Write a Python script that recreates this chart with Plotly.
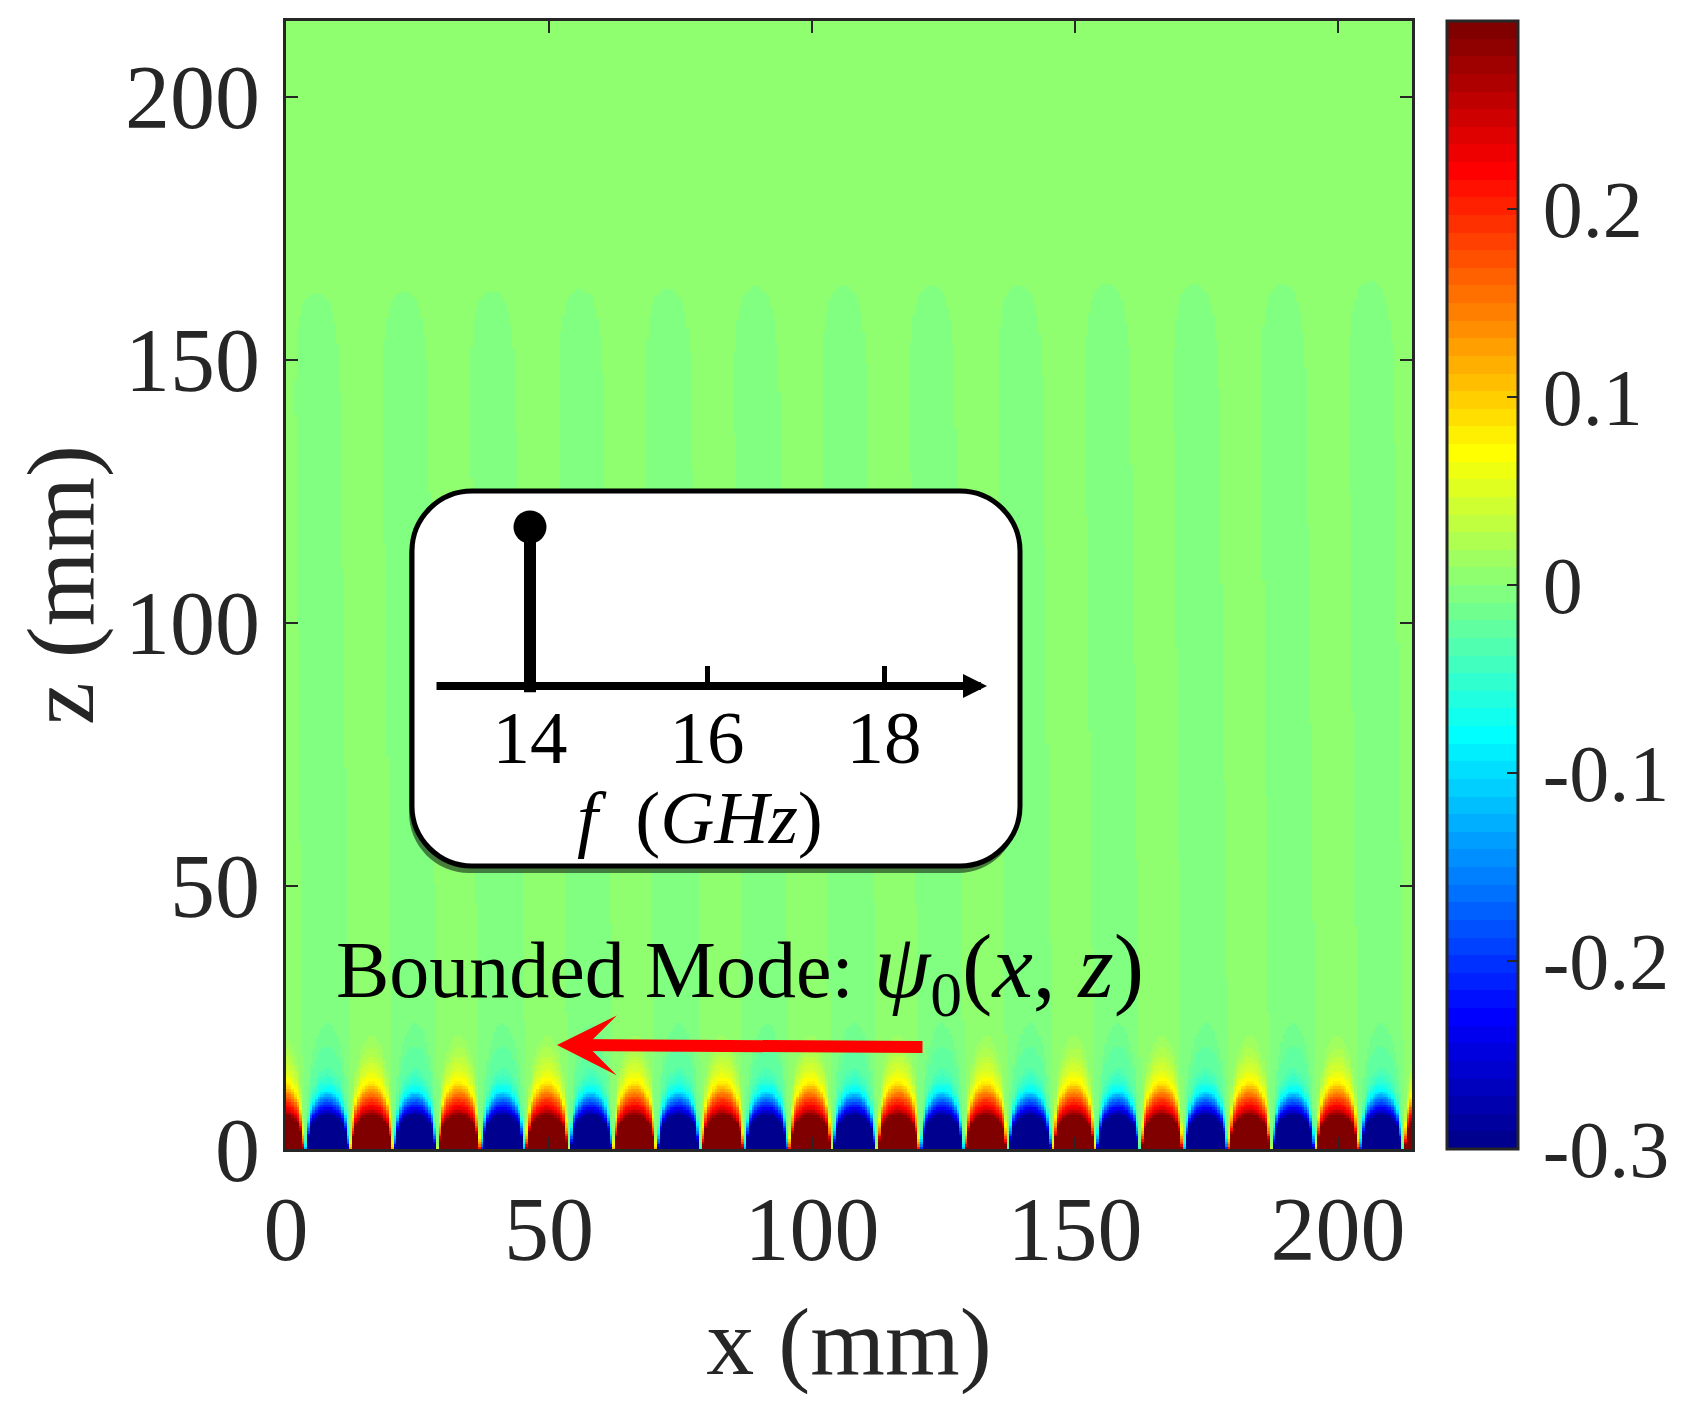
import numpy as np
import plotly.graph_objects as go

# ---------- values ----------
# x positions (mm) where the field changes sign along the surface
SIGN_CHANGES_MM = [-4.7, 3.6, 12.1, 20.4, 28.7, 37.0, 45.4, 53.8, 62.1, 70.4, 78.8, 87.1, 95.5, 103.8,
                   112.2, 120.5, 128.9, 137.2, 145.6, 153.9, 162.3, 170.6, 179.0, 187.3, 195.6,
                   204.0, 212.3, 220.6]
# field along the centre line of a positive and a negative lobe
RED_HEIGHT_MM = [0, 3, 6.3, 7.9, 10.4, 12.7, 15, 18, 21, 26, 40]
RED_VALUE = [0.90, 0.55, 0.30, 0.225, 0.15, 0.075, 0.045, 0.022, 0.0058, 0.002, 0.0]
BLUE_HEIGHT_MM = [0, 3, 6.3, 7.9, 9.6, 11.3, 13.5, 16, 21, 26, 40]
BLUE_VALUE = [0.90, 0.55, 0.30, 0.225, 0.15, 0.075, 0.04, 0.02, 0.013, 0.0, 0.0]
# faint far-field arches above the negative lobes
ARCH_TOP_MM = [162.7, 163.0, 163.2, 163.3, 163.6, 163.8, 164.0, 164.2, 164.2, 164.4, 164.4, 164.4, 164.8]
ARCH_DEPTH_MM = [0, 1.5, 6, 12, 20, 200]
ARCH_HALF_WIDTH_MM = [0.7, 2.4, 3.5, 4.1, 4.3, 4.4]
ARCH_LEAN_MM = 2.1
BACKGROUND_VALUE = 0.004
ARCH_VALUE = -0.004

X_TICKS = [0, 50, 100, 150, 200]
Z_TICKS = [0, 50, 100, 150, 200]
CB_TICKS = [-0.3, -0.2, -0.1, 0, 0.1, 0.2]
CB_LABELS = ["-0.3", "-0.2", "-0.1", "0", "0.1", "0.2"]
INSET_F_TICKS = [14, 16, 18]
STEM_F = [14]
STEM_AMP = [1]

# ---------- field ----------
x = np.arange(0.25, 214.1, 0.5)
z = np.arange(0.25, 214.5, 0.5)
X, Z = np.meshgrid(x, z)
field = np.full(X.shape, BACKGROUND_VALUE, dtype=float)

blue_centres = []
for i in range(1, len(SIGN_CHANGES_MM) - 1, 2):
    blue_centres.append((SIGN_CHANGES_MM[i] + SIGN_CHANGES_MM[i + 1]) / 2)

# far-field arches
for c0, top in zip(blue_centres, ARCH_TOP_MM):
    centre = c0 - ARCH_LEAN_MM * Z / top
    hw = np.interp(top - Z, ARCH_DEPTH_MM, ARCH_HALF_WIDTH_MM)
    field[(np.abs(X - centre) <= hw) & (Z <= top)] = ARCH_VALUE

# near-surface lobes
for i in range(len(SIGN_CHANGES_MM) - 1):
    a, b = SIGN_CHANGES_MM[i], SIGN_CHANGES_MM[i + 1]
    c, h = (a + b) / 2, (b - a) / 2
    m = (X >= a) & (X < b)
    u = np.abs(X[m] - c) / h
    zeff = Z[m] / np.sqrt(np.maximum(1 - u ** 2, 1e-4))
    edge = np.minimum(1.0, (1 - u) / 0.25)
    if i % 2 == 0:
        field[m] += np.interp(zeff, RED_HEIGHT_MM, RED_VALUE) * edge
    else:
        field[m] -= np.interp(zeff, BLUE_HEIGHT_MM, BLUE_VALUE) * edge

# ---------- stepped 64-level jet ----------
def jet(t):
    r = np.clip(min(4 * t - 1.5, -4 * t + 4.5), 0, 1)
    g = np.clip(min(4 * t - 0.5, -4 * t + 3.5), 0, 1)
    b = np.clip(min(4 * t + 0.5, -4 * t + 2.5), 0, 1)
    return f"rgb({r*255:.0f},{g*255:.0f},{b*255:.0f})"

scale = []
for i in range(64):
    col = jet((i + 1) / 64)
    scale += [[i / 64, col], [(i + 1) / 64, col]]

# ---------- layout helpers (pixel frame of the page) ----------
L, R, T, B = 286, 1412, 21, 1149
W, H = 1689, 1415
MR = 20
PW = W - MR - L            # paper area used by the margins
XMAX, ZMAX = 214.07, 214.4
INK = "#262626"
SERIF = "Liberation Serif"
fx = lambda p: (p - L) / PW
fy = lambda p: (B - p) / (B - T)
mx = lambda p: (p - L) / (R - L) * XMAX
mz = lambda p: (B - p) / (B - T) * ZMAX

# inset frame (pixel), a little larger than the box so its border is not clipped
IL, IR, IT, IB = 396, 1034, 481, 882
GHZ_PX = 88.5
F14_PX = 530
BASE_PX = 686
AMP_PX = 159
fi = lambda p: 14 + (p - F14_PX) / GHZ_PX
ai = lambda p: (BASE_PX - p) / AMP_PX

def rounded(x0, x1, y0, y1, r):
    k = r * 0.45
    pts = [("M", x0 + r, y0), ("L", x1 - r, y0),
           ("C", x1 - k, y0, x1, y0 + k, x1, y0 + r), ("L", x1, y1 - r),
           ("C", x1, y1 - k, x1 - k, y1, x1 - r, y1), ("L", x0 + r, y1),
           ("C", x0 + k, y1, x0, y1 - k, x0, y1 - r), ("L", x0, y0 + r),
           ("C", x0, y0 + k, x0 + k, y0, x0 + r, y0)]
    out = ""
    for p in pts:
        coords = []
        for j in range(1, len(p), 2):
            coords.append(f"{fi(p[j]):.5f},{ai(p[j+1]):.5f}")
        out += p[0] + " ".join(coords) + " "
    return out + "Z"

fig = go.Figure()
fig.add_trace(go.Heatmap(
    x=x, y=z, z=field, zmin=-0.3, zmax=0.3, colorscale=scale, zsmooth=False,
    hoverinfo="skip",
    colorbar=dict(
        x=fx(1447), xanchor="left", xpad=0, y=0.5, yanchor="middle", ypad=0, len=1,
        thickness=71, thicknessmode="pixels",
        outlinecolor=INK, outlinewidth=3,
        tickmode="array", tickvals=CB_TICKS, ticktext=["\u200a" + t for t in CB_LABELS],
        ticks="inside", ticklen=12, tickwidth=2, tickcolor=INK,
        tickfont=dict(family=SERIF, size=80, color=INK),
    ),
))
fig.add_trace(go.Scatter(
    x=[STEM_F[0], STEM_F[0]], y=[-0.04, STEM_AMP[0]], mode="lines",
    line=dict(color="black", width=12), xaxis="x2", yaxis="y2", hoverinfo="skip", showlegend=False))
fig.add_trace(go.Scatter(
    x=STEM_F, y=STEM_AMP, mode="markers", marker=dict(color="black", size=33),
    xaxis="x2", yaxis="y2", hoverinfo="skip", showlegend=False))

axis_common = dict(showgrid=False, zeroline=False, showline=True, linecolor=INK, linewidth=3,
                   mirror="ticks", ticks="inside", ticklen=12, tickwidth=2, tickcolor=INK,
                   tickfont=dict(family=SERIF, size=90, color=INK))

fig.update_layout(
    width=W, height=H, autosize=False,
    margin=dict(l=L, r=MR, t=T, b=H - B, autoexpand=False),
    paper_bgcolor="white", plot_bgcolor="rgba(0,0,0,0)", showlegend=False,
    font=dict(family=SERIF, color=INK),
    xaxis=dict(domain=[0, fx(R)], range=[0, XMAX], tickmode="array", tickvals=X_TICKS, ticklabelstandoff=0,
               title=dict(text="x (mm)", font=dict(family=SERIF, size=96, color=INK), standoff=29),
               **axis_common),
    yaxis=dict(range=[0, ZMAX], tickmode="array", tickvals=Z_TICKS, ticklabelstandoff=5,
               title=dict(text="z (mm)", font=dict(family=SERIF, size=96, color=INK), standoff=0),
               **axis_common),
    xaxis2=dict(domain=[fx(IL), fx(IR)], range=[fi(IL), fi(IR)], anchor="free", position=fy(BASE_PX),
                showgrid=False, zeroline=False, showline=False,
                tickmode="array", tickvals=INSET_F_TICKS, ticks="inside", ticklen=20, tickwidth=5,
                tickcolor="black", ticklabelstandoff=1,
                tickfont=dict(family=SERIF, size=75, color="black")),
    yaxis2=dict(domain=[fy(IB), fy(IT)], range=[ai(IB), ai(IT)], anchor="x2", visible=False),
    shapes=[
        dict(type="path", xref="x2", yref="y2", layer="below", path=rounded(409, 1018, 497, 873, 60),
             fillcolor="rgba(20,40,20,0.6)", line=dict(width=0)),
        dict(type="path", xref="x2", yref="y2", layer="below", path=rounded(412, 1020, 491, 866, 60),
             fillcolor="white", line=dict(color="black", width=5)),
    ],
    annotations=[
        dict(xref="x", yref="y", x=mx(740), y=mz(973), showarrow=False, xanchor="center", yanchor="middle",
             text='Bounded Mode: <span style="font-size:91px"><i>ψ</i><sub>0</sub>(<i>x</i>,\u00a0<i>z</i>)</span>',
             font=dict(family=SERIF, size=80, color="black")),
        dict(xref="x", yref="y", axref="x", ayref="y", x=mx(557), y=mz(1045), ax=mx(924), ay=mz(1047),
             text="", showarrow=True, arrowhead=3, arrowsize=0.83, arrowwidth=12, arrowcolor="#ff0000"),
        dict(xref="x2", yref="y2", axref="x2", ayref="y2", x=fi(987), y=0, ax=fi(435), ay=0,
             text="", showarrow=True, arrowhead=2, arrowsize=0.6, arrowwidth=8, arrowcolor="black"),
        dict(xref="x2", yref="y2", x=fi(700), y=ai(817), showarrow=False, xanchor="center", yanchor="middle",
             text="<i>f</i>\u00a0\u00a0(<i>GHz</i>)", font=dict(family=SERIF, size=75, color="black")),
    ],
)

fig.write_html("out.html", config=dict(displayModeBar=False),
               post_script="document.body.style.margin='0';document.body.style.overflow='hidden';")
